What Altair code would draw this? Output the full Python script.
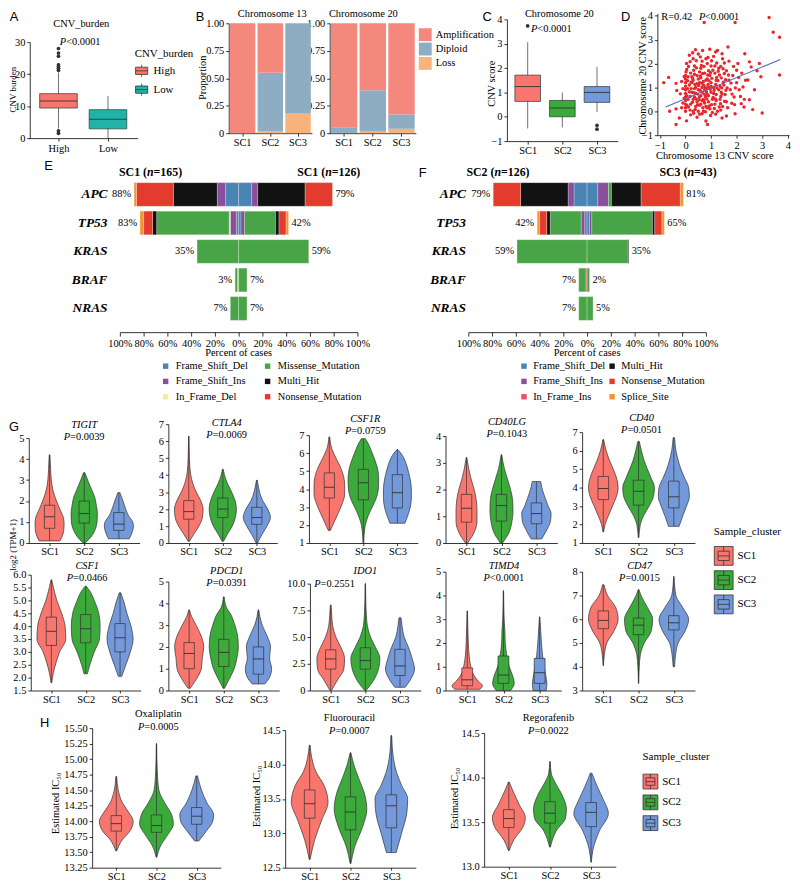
import altair as alt
import pandas as pd

# ============================== DATA ==============================
CLUSTERS = ["SC1", "SC2", "SC3"]
CLUSTER_COLORS = ["#F8766D", "#3BAA3B", "#7399DA"]

# Panel A  (whisker low, Q1, median, Q3, whisker high)
A_GROUPS = ["High", "Low"]
A_COLORS = ["#F8766D", "#1FB3AA"]
A_HIGH_BOX = [3.0, 9.4, 11.6, 13.9, 20.5]
A_LOW_BOX = [0.0, 2.9, 5.9, 8.9, 13.2]
A_HIGH_OUTLIERS = [21.2, 21.8, 22.4, 22.9, 25.6, 26.6, 28.0, 2.3, 1.5]

# Panel B  (proportions per cluster SC1..SC3)
B_TYPES = ["Amplification", "Diploid", "Loss"]
B_COLORS = ["#F4887C", "#8EADC2", "#F7B37B"]
B_CHR13_AMP = [1.00, 0.45, 0.00]
B_CHR13_DIP = [0.00, 0.535, 0.82]
B_CHR13_LOSS = [0.00, 0.015, 0.18]
B_CHR20_AMP = [0.95, 0.61, 0.83]
B_CHR20_DIP = [0.05, 0.37, 0.13]
B_CHR20_LOSS = [0.00, 0.02, 0.04]

# Panel C
C_BOX = [[-0.48, 0.63, 1.24, 1.71, 3.06],
         [-0.44, 0.00, 0.36, 0.67, 1.00],
         [0.19, 0.59, 1.00, 1.24, 2.05]]
C_OUT_POS = [1, 3, 3]
C_OUT_VALUE = [3.73, -0.35, -0.51]

# Panel D  (chr13 score, chr20 score)
D_POINTS = [(-0.85, 1.2), (-0.66, 1.42), (-0.62, 0.0), (-0.37, 1.17), (-0.34, 0.87), (-0.2, 0.73),
            (-0.37, 0.1), (-0.37, -0.55), (-0.24, -0.28), (0.04, 2.0), (0.04, -0.4), (0.39, 2.58),
            (0.67, 2.55), (0.8, 2.2), (1.18, 2.48), (1.43, 2.41), (1.66, 2.69), (2.0, 1.72),
            (2.32, 2.41), (2.5, 2.07), (2.57, 1.86), (2.89, 2.0), (2.95, 1.45), (2.44, 1.31),
            (2.5, 0.48), (2.63, 0.07), (2.29, 0.18), (3.0, -0.07), (3.27, 3.93), (3.43, 3.31),
            (3.68, 3.1), (3.68, 1.52), (1.94, 3.72), (0.73, 3.72), (1.94, -0.1), (1.81, 0.34),
            (0.8, -0.41), (0.86, -0.55), (1.43, -0.28),
            (0, 0.0), (0, 0.15), (0, 0.3), (0, 0.45), (0, 0.6), (0, 0.75), (0, 0.9), (0, 1.05),
            (0, 1.2), (0, 1.35), (0, 1.5),
            (0.1, 0.5), (0.15, 1.1), (0.2, 0.3), (0.2, 1.6), (0.25, 0.8), (0.3, 0.0), (0.3, 1.3),
            (0.3, 2.2), (0.35, 0.6), (0.35, 1.9), (0.4, 0.2), (0.4, 1.0), (0.45, 1.5), (0.45, 0.4),
            (0.5, 0.9), (0.5, 2.4), (0.5, 0.0), (0.55, 1.2), (0.55, 0.6), (0.6, 1.8), (0.6, 0.3),
            (0.6, 1.4), (0.65, 0.8), (0.65, 2.1), (0.7, 0.5), (0.7, 1.1), (0.7, 0.0), (0.75, 1.6),
            (0.75, 0.9), (0.8, 0.2), (0.8, 1.3), (0.85, 0.7), (0.85, 2.0), (0.9, 1.0), (0.9, 0.4),
            (0.95, 1.5), (0.95, 0.1), (1.0, 0.8), (1.0, 1.9), (1.0, 1.2), (1.05, 0.5), (1.1, 2.3),
            (1.1, 1.0), (1.15, 0.3), (1.15, 1.6), (1.2, 0.7), (1.2, 1.3), (1.25, 0.0), (1.3, 1.8),
            (1.3, 0.9), (1.35, 0.5), (1.4, 1.4), (1.45, 2.2), (1.45, 0.2), (1.5, 1.1), (1.55, 0.7),
            (1.6, 1.7), (1.6, 0.4), (1.7, 1.3), (1.7, 2.1), (1.75, 0.9), (1.85, 1.5), (1.9, 0.6),
            (2.0, 1.2), (2.05, 2.0), (2.1, 0.9), (2.2, 1.6), (2.3, 0.5), (2.35, 1.3), (2.7, 0.9),
            (2.8, 1.7), (0.05, 1.75), (-0.1, 0.95), (-0.1, 0.35), (-0.05, 1.45), (0.2, -0.15),
            (0.45, -0.25), (0.65, -0.1), (1.05, -0.05), (1.6, -0.2), (0.15, 2.35), (0.95, 2.6),
            (1.25, 2.55), (0.25, 1.45), (0.55, 1.65), (0.85, 1.35), (1.35, 1.05), (0.4, 0.75),
            (0.6, 0.65), (0.75, 0.35), (0.35, 0.95), (0.5, 1.35), (0.7, 1.25), (0.9, 0.65),
            (1.1, 0.75), (0.3, 0.5), (0.45, 1.15), (0.65, 1.0), (0.8, 0.95), (1.0, 1.05),
            (0.55, 0.25), (0.85, 0.15), (1.2, 0.45), (1.4, 0.8), (0.25, 1.2), (0.9, 1.7), (1.15, 1.9),
            (0.12, 0.18), (0.18, 0.62), (0.22, 0.95), (0.28, 1.38), (0.32, 1.72), (0.38, 0.08),
            (0.42, 0.52), (0.48, 0.72), (0.52, 1.08), (0.58, 1.48), (0.62, 1.92), (0.68, 0.15),
            (0.72, 0.42), (0.78, 0.62), (0.82, 0.82), (0.88, 1.12), (0.92, 1.28), (0.98, 1.62),
            (1.02, 0.28), (1.08, 0.58), (1.12, 0.88), (1.18, 1.12), (1.22, 1.42), (1.28, 1.68),
            (1.32, 0.18), (1.38, 0.62), (1.42, 0.98), (1.48, 1.22), (1.52, 1.58), (1.58, 0.88),
            (0.15, 0.82), (0.22, 1.22), (0.27, 0.38), (0.33, 0.78), (0.37, 1.12), (0.43, 1.82),
            (0.47, 0.28), (0.53, 0.48), (0.57, 0.88), (0.63, 1.18), (0.67, 1.58), (0.73, 0.72),
            (0.77, 1.02), (0.83, 0.52), (0.87, 1.52), (0.93, 0.22), (0.97, 0.92), (1.03, 1.38),
            (1.07, 1.72), (1.13, 0.12), (1.17, 0.52), (1.23, 0.98), (1.27, 1.28), (1.33, 1.52),
            (1.37, 0.32), (1.43, 0.72), (1.47, 1.78), (1.53, 0.42), (1.57, 1.32), (1.63, 0.98),
            (0.08, 1.28), (0.12, 1.88), (0.18, 2.08), (0.28, 2.45), (0.42, 2.12), (0.58, 2.28),
            (0.72, 1.88), (0.88, 2.25), (1.02, 2.12), (1.22, 2.02), (1.38, 1.88), (1.52, 2.02),
            (1.68, 1.52), (1.78, 1.18), (1.82, 0.72), (1.88, 1.88), (1.95, 0.98), (2.08, 1.42),
            (2.15, 0.62), (2.25, 1.02), (0.18, 0.05), (0.32, -0.08), (0.55, -0.12), (0.78, -0.02),
            (0.98, -0.18), (1.18, -0.12), (1.38, 0.05), (1.65, 0.15), (1.92, 0.28), (2.18, 0.32),
            (0.05, 0.25), (0.05, 0.65), (0.08, 0.95), (0.1, 1.45), (-0.05, 0.55), (-0.15, 1.25),
            (-0.15, 0.15), (0.02, 1.65), (0.35, 1.55), (0.65, 0.45)]
D_LINE_X = [-0.78, 3.71]
D_LINE_Y = [0.18, 2.17]

# Panels E / F  (percent of cases, in MUT_TYPES order)
MUT_TYPES = ["Frame_Shift_Del", "Frame_Shift_Ins", "In_Frame_Del", "In_Frame_Ins",
             "Missense_Mutation", "Multi_Hit", "Nonsense_Mutation", "Splice_Site"]
MUT_COLORS = ["#4A84B4", "#8B4E9E", "#F3EE9E", "#E5536B", "#47A447", "#121212", "#E43B2F", "#F49234"]
GENES = ["APC", "TP53", "KRAS", "BRAF", "NRAS"]
E_LEFT_APC = [11, 7, 0, 0, 0, 37, 31, 2]
E_LEFT_TP53 = [2, 5, 1, 0, 61, 3.5, 7.5, 3]
E_LEFT_KRAS = [0, 0, 0, 0, 35, 0, 0, 0]
E_LEFT_BRAF = [0, 0, 1, 0, 2, 0, 0, 0]
E_LEFT_NRAS = [0, 0, 0, 0, 7, 0, 0, 0]
E_RIGHT_APC = [11, 5, 0, 0, 0, 40, 23, 0]
E_RIGHT_TP53 = [2, 3, 0, 0, 26, 3, 6, 2]
E_RIGHT_KRAS = [0, 0, 0, 0, 59, 0, 0, 0]
E_RIGHT_BRAF = [0, 0, 0, 0, 7, 0, 0, 0]
E_RIGHT_NRAS = [0, 0, 0, 0, 7, 0, 0, 0]
E_LEFT_PCT = [88, 83, 35, 3, 7]
E_RIGHT_PCT = [79, 42, 59, 7, 7]
F_LEFT_APC = [11, 5, 0, 0, 0, 40, 23, 0]
F_LEFT_TP53 = [2, 3, 0, 0, 26, 3, 6, 2]
F_LEFT_KRAS = [0, 0, 0, 0, 59, 0, 0, 0]
F_LEFT_BRAF = [0, 0, 0, 1, 6, 0, 0, 0]
F_LEFT_NRAS = [0, 0, 0, 0, 7, 0, 0, 0]
F_RIGHT_APC = [9, 9, 0, 0, 2.5, 25, 33, 2.5]
F_RIGHT_TP53 = [2, 2, 0, 0, 51, 2, 6, 2]
F_RIGHT_KRAS = [0, 0, 0, 0, 34, 1, 0, 0]
F_RIGHT_BRAF = [0, 0, 0, 0, 2, 0, 0, 0]
F_RIGHT_NRAS = [0, 0, 0, 0, 5, 0, 0, 0]
F_LEFT_PCT = [79, 42, 59, 7, 7]
F_RIGHT_PCT = [81, 65, 35, 2, 5]
# legend entries, listed column by column
E_LEGEND = ["Frame_Shift_Del", "Frame_Shift_Ins", "In_Frame_Del",
            "Missense_Mutation", "Multi_Hit", "Nonsense_Mutation"]
F_LEGEND = ["Frame_Shift_Del", "Frame_Shift_Ins", "In_Frame_Ins",
            "Multi_Hit", "Nonsense_Mutation", "Splice_Site"]

# Panels G / H violins: per cluster value levels (Y) and half widths (W); boxes (lo, q1, med, q3, hi)
TIGIT_Y = [[0.1, 0.3, 0.6, 0.9, 1.2, 1.6, 2.0, 2.5, 3.0, 3.5, 4.2],
           [0.0, 0.3, 0.7, 1.0, 1.4, 1.8, 2.2, 2.6, 3.0, 3.35],
           [0.2, 0.5, 0.8, 1.0, 1.3, 1.6, 2.0, 2.4]]
TIGIT_W = [[0.3, 0.36, 0.41, 0.42, 0.4, 0.3, 0.2, 0.1, 0.05, 0.03, 0.01],
           [0.03, 0.2, 0.33, 0.37, 0.38, 0.35, 0.3, 0.2, 0.1, 0.02],
           [0.3, 0.38, 0.42, 0.4, 0.28, 0.2, 0.12, 0.03]]
TIGIT_BOX = [[0.1, 0.7, 1.25, 1.8, 4.2], [0.0, 0.95, 1.4, 2.0, 3.35], [0.2, 0.6, 0.9, 1.45, 2.4]]

CTLA4_Y = [[0.1, 0.5, 1.0, 1.5, 2.0, 2.5, 3.0, 3.5, 4.0, 4.5, 5.5, 6.3],
           [0.1, 0.5, 1.0, 1.5, 2.0, 2.5, 3.0, 3.5, 4.0, 4.35],
           [0.0, 0.5, 1.0, 1.5, 2.0, 2.5, 3.0, 3.5, 3.7]]
CTLA4_W = [[0.02, 0.14, 0.3, 0.4, 0.42, 0.35, 0.22, 0.12, 0.06, 0.03, 0.012, 0.005],
           [0.02, 0.13, 0.28, 0.37, 0.4, 0.36, 0.26, 0.14, 0.05, 0.01],
           [0.02, 0.15, 0.3, 0.4, 0.32, 0.17, 0.08, 0.03, 0.01]]
CTLA4_BOX = [[0.1, 1.4, 1.85, 2.5, 6.3], [0.1, 1.5, 2.0, 2.65, 4.35], [0.0, 1.1, 1.5, 2.1, 3.7]]

CSF1R_Y = [[1.7, 2.2, 2.7, 3.2, 3.7, 4.2, 4.7, 5.2, 5.7, 6.2, 6.9],
           [1.0, 1.8, 2.5, 3.0, 3.5, 4.0, 4.5, 5.0, 5.5, 6.0, 6.5, 6.8],
           [2.1, 2.5, 3.0, 3.5, 4.0, 4.5, 5.0, 5.5, 6.0, 6.2]]
CSF1R_W = [[0.03, 0.15, 0.27, 0.38, 0.45, 0.45, 0.42, 0.33, 0.2, 0.08, 0.01],
           [0.01, 0.04, 0.14, 0.26, 0.38, 0.44, 0.45, 0.43, 0.36, 0.26, 0.15, 0.06],
           [0.22, 0.3, 0.38, 0.41, 0.41, 0.38, 0.32, 0.24, 0.1, 0.01]]
CSF1R_BOX = [[1.7, 3.5, 4.1, 4.9, 6.9], [1.0, 3.4, 4.35, 5.1, 6.8], [2.1, 2.95, 3.8, 4.8, 6.2]]

CD40LG_Y = [[0.0, 0.4, 0.8, 1.2, 1.6, 2.0, 2.4, 2.8, 3.2],
            [0.0, 0.4, 0.8, 1.2, 1.6, 2.0, 2.4, 2.8, 3.3],
            [0.15, 0.5, 0.8, 1.1, 1.4, 1.8, 2.1, 2.3]]
CD40LG_W = [[0.03, 0.22, 0.3, 0.3, 0.28, 0.22, 0.13, 0.06, 0.01],
            [0.03, 0.22, 0.3, 0.33, 0.32, 0.26, 0.17, 0.08, 0.01],
            [0.15, 0.3, 0.4, 0.42, 0.33, 0.22, 0.15, 0.12]]
CD40LG_BOX = [[0.0, 0.78, 1.3, 1.82, 3.2], [0.0, 0.82, 1.4, 1.82, 3.3], [0.15, 0.72, 1.1, 1.5, 2.3]]

CD40_Y = [[1.6, 2.0, 2.5, 3.0, 3.5, 4.0, 4.5, 5.0, 5.5, 6.0, 6.6],
          [1.3, 2.0, 2.5, 3.0, 3.5, 4.0, 4.5, 5.0, 5.5, 6.0, 6.5],
          [1.9, 2.5, 3.0, 3.5, 4.0, 4.5, 5.0, 5.5, 6.0, 6.7]]
CD40_W = [[0.01, 0.05, 0.15, 0.26, 0.37, 0.42, 0.38, 0.28, 0.17, 0.08, 0.01],
          [0.01, 0.05, 0.15, 0.3, 0.42, 0.45, 0.36, 0.25, 0.15, 0.08, 0.02],
          [0.15, 0.26, 0.36, 0.44, 0.42, 0.31, 0.2, 0.12, 0.06, 0.02]]
CD40_BOX = [[1.6, 3.35, 3.95, 4.6, 6.6], [1.3, 3.05, 3.8, 4.4, 6.5], [1.9, 2.9, 3.5, 4.35, 6.7]]

CSF1_Y = [[1.8, 2.2, 2.6, 3.0, 3.5, 4.0, 4.5, 5.0, 5.5, 5.8],
          [2.15, 2.5, 3.0, 3.5, 4.0, 4.5, 5.0, 5.3, 5.55],
          [2.05, 2.5, 3.0, 3.5, 4.0, 4.5, 5.0, 5.3]]
CSF1_W = [[0.01, 0.06, 0.14, 0.24, 0.42, 0.4, 0.3, 0.16, 0.06, 0.01],
          [0.05, 0.12, 0.25, 0.4, 0.42, 0.38, 0.25, 0.15, 0.02],
          [0.05, 0.17, 0.3, 0.38, 0.32, 0.2, 0.1, 0.02]]
CSF1_BOX = [[1.8, 3.25, 3.8, 4.35, 5.8], [2.15, 3.35, 3.9, 4.45, 5.55], [2.05, 3.0, 3.55, 4.1, 5.3]]

PDCD1_Y = [[0.1, 0.5, 1.0, 1.5, 2.0, 2.5, 3.0, 3.4, 3.7],
           [0.1, 0.5, 1.0, 1.5, 2.0, 2.5, 3.0, 3.5, 3.8, 4.3],
           [0.3, 0.6, 1.0, 1.5, 2.0, 2.5, 3.0, 3.4, 3.7]]
PDCD1_W = [[0.03, 0.2, 0.35, 0.38, 0.42, 0.35, 0.2, 0.07, 0.01],
           [0.02, 0.15, 0.3, 0.38, 0.42, 0.4, 0.32, 0.2, 0.08, 0.01],
           [0.18, 0.32, 0.38, 0.32, 0.35, 0.25, 0.11, 0.04, 0.01]]
PDCD1_BOX = [[0.1, 1.0, 1.7, 2.2, 3.7], [0.1, 1.1, 1.75, 2.35, 4.3], [0.3, 0.75, 1.45, 2.0, 3.7]]

IDO1_Y = [[0.0, 1.0, 2.0, 3.0, 4.0, 5.0, 6.0, 7.0, 8.0],
          [0.0, 1.0, 2.0, 3.0, 4.0, 5.0, 6.0, 7.0, 8.0, 10.0],
          [0.3, 1.0, 2.0, 3.0, 4.0, 5.0, 6.0, 6.8]]
IDO1_W = [[0.02, 0.2, 0.38, 0.4, 0.3, 0.15, 0.06, 0.03, 0.01],
          [0.02, 0.25, 0.38, 0.42, 0.3, 0.15, 0.06, 0.03, 0.015, 0.005],
          [0.15, 0.3, 0.42, 0.35, 0.25, 0.12, 0.06, 0.03]]
IDO1_BOX = [[0.0, 2.0, 2.95, 3.8, 8.0], [0.0, 2.0, 2.8, 4.0, 10.0], [0.3, 1.4, 2.3, 3.85, 6.8]]

TIMD4_Y = [[0.05, 0.2, 0.4, 0.7, 1.0, 1.5, 2.0, 2.7, 3.35],
           [0.0, 0.3, 0.6, 1.0, 1.5, 2.0, 2.5, 3.0, 4.2],
           [0.0, 0.3, 0.7, 1.0, 1.5, 2.0, 2.5, 3.1]]
TIMD4_W = [[0.35, 0.42, 0.3, 0.16, 0.1, 0.05, 0.03, 0.015, 0.005],
           [0.2, 0.3, 0.26, 0.16, 0.09, 0.05, 0.04, 0.02, 0.005],
           [0.18, 0.2, 0.16, 0.13, 0.08, 0.05, 0.03, 0.005]]
TIMD4_BOX = [[0.05, 0.2, 0.45, 0.95, 3.35], [0.0, 0.3, 0.65, 1.45, 4.2], [0.0, 0.3, 0.75, 1.35, 3.1]]

CD47_Y = [[4.05, 4.5, 5.0, 5.5, 6.0, 6.5, 7.0, 7.45],
          [3.3, 4.0, 4.5, 5.0, 5.5, 6.0, 6.5, 7.0, 7.25],
          [4.0, 4.5, 5.0, 5.5, 6.0, 6.5, 7.0, 7.8]]
CD47_W = [[0.005, 0.03, 0.1, 0.3, 0.42, 0.35, 0.12, 0.02],
          [0.005, 0.02, 0.05, 0.16, 0.36, 0.4, 0.25, 0.07, 0.01],
          [0.02, 0.05, 0.12, 0.32, 0.42, 0.25, 0.06, 0.005]]
CD47_BOX = [[4.05, 5.6, 5.95, 6.35, 7.45], [3.3, 5.35, 5.75, 6.05, 7.25], [4.0, 5.55, 5.85, 6.15, 7.8]]

OXA_Y = [[13.52, 13.7, 13.85, 14.0, 14.15, 14.3, 14.5, 14.72],
         [13.42, 13.6, 13.8, 13.95, 14.1, 14.3, 14.5, 14.8, 15.25],
         [13.68, 13.85, 14.0, 14.1, 14.3, 14.5, 14.73]]
OXA_W = [[0.01, 0.15, 0.35, 0.42, 0.3, 0.15, 0.05, 0.01],
         [0.01, 0.1, 0.3, 0.42, 0.38, 0.2, 0.06, 0.02, 0.005],
         [0.05, 0.25, 0.4, 0.42, 0.25, 0.12, 0.02]]
OXA_BOX = [[13.52, 13.84, 13.96, 14.09, 14.72], [13.42, 13.82, 13.93, 14.1, 15.25],
           [13.68, 13.95, 14.08, 14.22, 14.73]]

FLU_Y = [[12.62, 12.9, 13.2, 13.45, 13.7, 13.9, 14.1, 14.28],
         [12.56, 12.8, 13.1, 13.35, 13.6, 13.8, 14.0, 14.17],
         [12.72, 13.0, 13.3, 13.5, 13.7, 13.9, 14.1, 14.42]]
FLU_W = [[0.01, 0.12, 0.3, 0.45, 0.35, 0.15, 0.05, 0.01],
         [0.01, 0.1, 0.3, 0.4, 0.33, 0.2, 0.08, 0.01],
         [0.12, 0.25, 0.38, 0.4, 0.25, 0.12, 0.05, 0.01]]
FLU_BOX = [[12.62, 13.22, 13.43, 13.63, 14.28], [12.56, 13.05, 13.31, 13.53, 14.17],
           [12.72, 13.08, 13.4, 13.56, 14.42]]

REG_Y = [[13.18, 13.3, 13.45, 13.55, 13.7, 13.85, 13.95],
         [13.22, 13.4, 13.55, 13.65, 13.8, 13.95, 14.05, 14.18],
         [13.05, 13.2, 13.4, 13.6, 13.75, 13.9, 14.05]]
REG_W = [[0.01, 0.12, 0.35, 0.4, 0.25, 0.1, 0.01],
         [0.01, 0.15, 0.38, 0.4, 0.3, 0.12, 0.03, 0.005],
         [0.005, 0.05, 0.2, 0.42, 0.3, 0.15, 0.02]]
REG_BOX = [[13.18, 13.44, 13.54, 13.64, 13.95], [13.22, 13.49, 13.6, 13.73, 14.18],
           [13.05, 13.45, 13.61, 13.72, 14.05]]

# ============================== HELPERS ==============================
SERIF = "Liberation Serif"
SANS = "Liberation Sans"
DARK = "#333333"
W, H = 792, 875


def X(px):
    return px - 8


def Y(py):
    return py - 8


ONE = alt.Data(values=[{"k": 0}])


def txt(s, px, py, size=10.5, align="center", italic=False, bold=False, font=SERIF, angle=None):
    kw = dict(text=s, fontSize=size, align=align, baseline="middle", font=font, color="black")
    if italic:
        kw["fontStyle"] = "italic"
    if bold:
        kw["fontWeight"] = "bold"
    if angle is not None:
        kw["angle"] = angle
    return alt.Chart(ONE).mark_text(**kw).encode(x=alt.value(X(px)), y=alt.value(Y(py)))


def tw(s, size, bold=False):
    table = {".": .25, "=": .564, "<": .564, " ": .25, "(": .333, ")": .333,
             "P": .556, "S": .556, "C": .667, "n": .5, "R": .667}
    if bold:
        table.update({"C": .722, "=": .57, "n": .556})
    return sum(table.get(ch, .5) for ch in s) * size


def ptxt(rest, cx, py, size=10.5):
    wp = 0.6 * size
    wr = tw(rest, size)
    x0 = cx - (wp + wr) / 2 + wp
    return [txt("P", x0, py, size, align="right", italic=True), txt(rest, x0, py, size, align="left")]


def ntxt(pre, post, cx, py, size=12):
    w1 = tw(pre, size, True)
    wn = 0.556 * size
    w3 = tw(post, size, True)
    left = cx - (w1 + wn + w3) / 2
    return [txt(pre, left + w1, py, size, "right", bold=True),
            txt("n", left + w1 + wn / 2, py, size, "center", italic=True, bold=True),
            txt(post, left + w1 + wn, py, size, "left", bold=True)]


def qscale(dom, r0, r1):
    return alt.Scale(domain=dom, range=[r0, r1], nice=False, zero=False)


def xbottom(py, values=None, labelExpr=None, **kw):
    d = dict(orient="bottom", offset=Y(py) - H, title=None)
    if values is not None:
        d["values"] = values
    if labelExpr:
        d["labelExpr"] = labelExpr
    d.update(kw)
    return alt.Axis(**d)


def yleft(px, values=None, **kw):
    d = dict(orient="left", offset=-X(px), title=None)
    if values is not None:
        d["values"] = values
    d.update(kw)
    return alt.Axis(**d)


def box_df(groups, boxes, halfbox):
    rows = []
    for i, (g, b) in enumerate(zip(groups, boxes)):
        lo, q1, md, q3, hi = b
        p = i + 1
        rows.append({"g": g, "p": p, "lo": lo, "q1": q1, "md": md, "q3": q3, "hi": hi,
                     "bl": p - halfbox, "br": p + halfbox})
    return pd.DataFrame(rows)


def box_layers(bdf, xs, ys, xa, ya, cs, legend):
    whisk = alt.Chart(bdf).mark_rule(color=DARK, strokeWidth=0.7).encode(
        x=alt.X("p:Q", scale=xs, axis=xa), y=alt.Y("lo:Q", scale=ys, axis=ya), y2="hi:Q")
    box = alt.Chart(bdf).mark_rect(stroke=DARK, strokeWidth=0.7).encode(
        x=alt.X("bl:Q", scale=xs, axis=xa), x2="br:Q",
        y=alt.Y("q1:Q", scale=ys, axis=ya), y2="q3:Q",
        color=alt.Color("g:N", scale=cs, legend=legend))
    med = alt.Chart(bdf).mark_rule(color=DARK, strokeWidth=0.9).encode(
        x=alt.X("bl:Q", scale=xs, axis=xa), x2="br:Q", y=alt.Y("md:Q", scale=ys, axis=ya))
    return [whisk, box, med]


def violin_panel(vy, vw, boxes, ydom, yticks, xpx, ypx, yfmt=None, yexpr=None, legend=None, halfbox=0.15):
    xs = qscale([0.4, 3.6], X(xpx[0]), X(xpx[1]))
    ys = qscale(ydom, Y(ypx[0]), Y(ypx[1]))
    xa = xbottom(ypx[0], [1, 2, 3], "'SC' + datum.value", tickSize=2.5, labelPadding=1.5)
    extra = {}
    if yfmt:
        extra["format"] = yfmt
    if yexpr:
        extra["labelExpr"] = yexpr
    ya = yleft(xpx[0], yticks, **extra)
    cs = alt.Scale(domain=CLUSTERS, range=CLUSTER_COLORS)
    rows = []
    for i, (yl, wl) in enumerate(zip(vy, vw)):
        for yv, wv in zip(yl, wl):
            rows.append({"g": CLUSTERS[i], "y": yv, "xl": i + 1 - wv, "xr": i + 1 + wv})
    area = alt.Chart(pd.DataFrame(rows)).mark_area(
        orient="horizontal", interpolate="monotone", stroke=DARK, strokeWidth=0.7, opacity=1
    ).encode(
        y=alt.Y("y:Q", scale=ys, axis=ya),
        x=alt.X("xl:Q", scale=xs, axis=xa, stack=None),
        x2="xr:Q",
        color=alt.Color("g:N", scale=cs, legend=legend))
    return alt.layer(area, *box_layers(box_df(CLUSTERS, boxes, halfbox), xs, ys, xa, ya, cs, None))


BOX_GLYPH = "M-1,-0.6H1V0.6H-1Z M-1,0H1 M0,-0.6V-1 M0,0.6V1"
VIO_GLYPH = "M-1,-1H1V1H-1Z M-0.6,-0.5H0.6V0.5H-0.6Z M-0.6,0H0.6 M0,-1V-0.5 M0,0.5V1"

charts = []

# ---------------- Panel A ----------------
a_xs = qscale([0.4, 2.6], X(29), X(139))
a_ys = qscale([0, 30], Y(135), Y(38))
a_xa = xbottom(135, [1, 2], "datum.value == 1 ? 'High' : 'Low'")
a_ya = yleft(30, [0, 10, 20, 30])
a_cs = alt.Scale(domain=A_GROUPS, range=A_COLORS)
a_leg = alt.Legend(title="CNV_burden", orient="none", legendX=X(136), legendY=Y(44),
                   symbolType=BOX_GLYPH, symbolSize=150, symbolStrokeColor=DARK, symbolStrokeWidth=0.8,
                   rowPadding=3, titlePadding=5, labelOffset=5, labelFontSize=11, titleFontSize=11)
a_layers = box_layers(box_df(A_GROUPS, [A_HIGH_BOX, A_LOW_BOX], 0.38), a_xs, a_ys, a_xa, a_ya, a_cs, a_leg)
a_out = alt.Chart(pd.DataFrame({"p": [1] * len(A_HIGH_OUTLIERS), "v": A_HIGH_OUTLIERS})).mark_circle(
    size=14, color=DARK, opacity=1).encode(x=alt.X("p:Q", scale=a_xs, axis=a_xa), y=alt.Y("v:Q", scale=a_ys, axis=a_ya))
charts.append(alt.layer(*a_layers, a_out))


# ---------------- Panel B ----------------
def stack_panel(amp, dip, loss, xpx, legend):
    rows = []
    for i, c in enumerate(CLUSTERS):
        for t, vals, r in (("Loss", loss, 0), ("Diploid", dip, 1), ("Amplification", amp, 2)):
            rows.append({"c": c, "t": t, "v": vals[i], "r": r})
    xs = alt.Scale(domain=CLUSTERS, range=[X(xpx[0]), X(xpx[1])], paddingInner=0.08, paddingOuter=0.04)
    ys = qscale([0, 1], Y(130), Y(19))
    return alt.Chart(pd.DataFrame(rows)).mark_bar().encode(
        x=alt.X("c:N", scale=xs, axis=xbottom(130, tickSize=3, labelPadding=1, labelAngle=0)),
        y=alt.Y("v:Q", scale=ys, stack="zero",
                axis=yleft(xpx[0], [0, 0.25, 0.5, 0.75, 1.0],
                           labelExpr="datum.value == 0 ? '0' : format(datum.value, '.2f')")),
        color=alt.Color("t:N", scale=alt.Scale(domain=B_TYPES, range=B_COLORS), legend=legend),
        order=alt.Order("r:Q", sort="ascending"))


b_leg = alt.Legend(title=None, orient="none", legendX=X(422), legendY=Y(23), symbolType="square",
                   symbolSize=169, rowPadding=0.5, labelOffset=3, labelFontSize=10.5, values=B_TYPES)
charts.append(stack_panel(B_CHR13_AMP, B_CHR13_DIP, B_CHR13_LOSS, (231, 315), None))
charts.append(stack_panel(B_CHR20_AMP, B_CHR20_DIP, B_CHR20_LOSS, (333, 420), b_leg))

# ---------------- Panel C ----------------
c_xs = qscale([0.4, 3.6], X(512), X(624))
c_ys = qscale([-1, 4], Y(138), Y(15))
c_xa = xbottom(138, [1, 2, 3], "'SC' + datum.value")
c_ya = yleft(512, [-1, 0, 1, 2, 3, 4])
c_cs = alt.Scale(domain=CLUSTERS, range=CLUSTER_COLORS)
c_layers = box_layers(box_df(CLUSTERS, C_BOX, 0.37), c_xs, c_ys, c_xa, c_ya, c_cs, None)
c_out = alt.Chart(pd.DataFrame({"p": C_OUT_POS, "v": C_OUT_VALUE})).mark_circle(
    size=14, color=DARK, opacity=1).encode(x=alt.X("p:Q", scale=c_xs, axis=c_xa), y=alt.Y("v:Q", scale=c_ys, axis=c_ya))
charts.append(alt.layer(*c_layers, c_out))

# ---------------- Panel D ----------------
d_xs = qscale([-1.1, 4.05], X(664), X(797))
d_ys = qscale([-1, 4.1], Y(132), Y(9))
d_xa = xbottom(132, [-1, 0, 1, 2, 3, 4])
d_ya = yleft(664, [-1, 0, 1, 2, 3, 4])
d_pts = alt.Chart(pd.DataFrame(D_POINTS, columns=["x", "y"])).mark_circle(
    size=12, color="#E8262B", opacity=1).encode(
    x=alt.X("x:Q", scale=d_xs, axis=d_xa), y=alt.Y("y:Q", scale=d_ys, axis=d_ya))
d_line = alt.Chart(pd.DataFrame({"x": D_LINE_X, "y": D_LINE_Y})).mark_line(
    color="#5468C4", strokeWidth=1.1).encode(
    x=alt.X("x:Q", scale=d_xs, axis=d_xa), y=alt.Y("y:Q", scale=d_ys, axis=d_ya))
charts.append(alt.layer(d_pts, d_line))


# ---------------- Panels E / F ----------------
def mut_panel(lefts, rights, lpct, rpct, x0, x1, legend, lpad):
    rows = []
    for g, L, R in zip(GENES, lefts, rights):
        for k, t in enumerate(MUT_TYPES):
            if L[k] > 0:
                rows.append({"gene": g, "type": t, "v": -L[k], "r": k})
            if R[k] > 0:
                rows.append({"gene": g, "type": t, "v": R[k], "r": k})
    xs = qscale([-100, 100], X(x0), X(x1))
    ys = alt.Scale(domain=GENES, range=[Y(177.5), Y(321.5)], paddingInner=0.17, paddingOuter=0.085)
    xa = xbottom(331, list(range(-100, 101, 20)), "abs(datum.value) + '%'", tickSize=4)
    ya = yleft(x0, domain=False, ticks=False, labelPadding=lpad, labelFontStyle="italic",
               labelFontWeight="bold", labelFontSize=13.5)
    bars = alt.Chart(pd.DataFrame(rows)).mark_bar(stroke="#f3e9dc", strokeWidth=0.3).encode(
        x=alt.X("v:Q", stack="zero", scale=xs, axis=xa),
        y=alt.Y("gene:N", scale=ys, axis=ya),
        color=alt.Color("type:N", scale=alt.Scale(domain=MUT_TYPES, range=MUT_COLORS), legend=legend),
        order=alt.Order("r:Q", sort="ascending"))
    pdf = pd.DataFrame({"gene": GENES, "lx": [-v for v in lpct], "rx": rpct,
                        "lt": [f"{v}%" for v in lpct], "rt": [f"{v}%" for v in rpct]})
    lt = alt.Chart(pdf).mark_text(align="right", dx=-3, fontSize=10.5, font=SERIF, color="black").encode(
        x=alt.X("lx:Q", scale=xs, axis=xa), y=alt.Y("gene:N", scale=ys, axis=ya), text="lt:N")
    rt = alt.Chart(pdf).mark_text(align="left", dx=3, fontSize=10.5, font=SERIF, color="black").encode(
        x=alt.X("rx:Q", scale=xs, axis=xa), y=alt.Y("gene:N", scale=ys, axis=ya), text="rt:N")
    return alt.layer(bars, lt, rt)


e_leg = alt.Legend(title=None, orient="none", legendX=X(162), legendY=Y(360), columns=2,
                   values=E_LEGEND, symbolType="square", symbolSize=30, symbolStrokeWidth=0,
                   rowPadding=4.5, columnPadding=14, labelOffset=5, labelFontSize=10.5)
f_leg = alt.Legend(title=None, orient="none", legendX=X(524), legendY=Y(360), columns=2,
                   values=F_LEGEND, symbolType="square", symbolSize=30, symbolStrokeWidth=0,
                   rowPadding=4.5, columnPadding=1, labelOffset=4, labelFontSize=10.5)
charts.append(mut_panel([E_LEFT_APC, E_LEFT_TP53, E_LEFT_KRAS, E_LEFT_BRAF, E_LEFT_NRAS],
                        [E_RIGHT_APC, E_RIGHT_TP53, E_RIGHT_KRAS, E_RIGHT_BRAF, E_RIGHT_NRAS],
                        E_LEFT_PCT, E_RIGHT_PCT, 121, 361, e_leg, 13))
charts.append(mut_panel([F_LEFT_APC, F_LEFT_TP53, F_LEFT_KRAS, F_LEFT_BRAF, F_LEFT_NRAS],
                        [F_RIGHT_APC, F_RIGHT_TP53, F_RIGHT_KRAS, F_RIGHT_BRAF, F_RIGHT_NRAS],
                        F_LEFT_PCT, F_RIGHT_PCT, 473, 713, f_leg, 3))

# ---------------- Panel G ----------------
g_leg = alt.Legend(title="Sample_cluster", orient="none", legendX=X(721), legendY=Y(527),
                   symbolType=VIO_GLYPH, symbolSize=361, symbolStrokeColor=DARK, symbolStrokeWidth=0.8,
                   rowPadding=0.5, titlePadding=9, labelOffset=4, labelFontSize=11, titleFontSize=11)
h_leg = alt.Legend(title="Sample_cluster", orient="none", legendX=X(649), legendY=Y(754),
                   symbolType=VIO_GLYPH, symbolSize=225, symbolStrokeColor=DARK, symbolStrokeWidth=0.8,
                   rowPadding=1, titlePadding=12, labelOffset=4, labelFontSize=11, titleFontSize=11)

charts.append(violin_panel(TIGIT_Y, TIGIT_W, TIGIT_BOX, [0, 5], [0, 1, 2, 3, 4, 5], (29, 141), (544, 438), legend=g_leg))
charts.append(violin_panel(CTLA4_Y, CTLA4_W, CTLA4_BOX, [0, 7], list(range(8)), (170, 280), (544, 424)))
charts.append(violin_panel(CSF1R_Y, CSF1R_W, CSF1R_BOX, [1, 7], list(range(1, 8)), (312, 422), (544, 435)))
charts.append(violin_panel(CD40LG_Y, CD40LG_W, CD40LG_BOX, [0, 4], list(range(5)), (450, 563), (544, 436)))
charts.append(violin_panel(CD40_Y, CD40_W, CD40_BOX, [1, 7], list(range(1, 8)), (588, 702), (544, 432)))
charts.append(violin_panel(CSF1_Y, CSF1_W, CSF1_BOX, [1.5, 6.0], [1.5, 2, 2.5, 3, 3.5, 4, 4.5, 5, 5.5, 6],
                           (31, 142), (693, 576), yfmt=".1f"))
charts.append(violin_panel(PDCD1_Y, PDCD1_W, PDCD1_BOX, [0, 5], list(range(6)), (170, 282), (693, 583)))
charts.append(violin_panel(IDO1_Y, IDO1_W, IDO1_BOX, [0, 10], [0, 2.5, 5, 7.5, 10], (313, 425), (693, 585),
                           yexpr="datum.value == 0 ? '0' : format(datum.value, '.1f')"))
charts.append(violin_panel(TIMD4_Y, TIMD4_W, TIMD4_BOX, [0, 5], list(range(6)), (450, 567), (693, 573)))
charts.append(violin_panel(CD47_Y, CD47_W, CD47_BOX, [3, 8], list(range(3, 9)), (588, 702), (693, 573)))

# ---------------- Panel H ----------------
charts.append(violin_panel(OXA_Y, OXA_W, OXA_BOX, [13.25, 15.5],
                           [13.25, 13.5, 13.75, 14.0, 14.25, 14.5, 14.75, 15.0, 15.25, 15.5],
                           (93, 223), (872, 731), yfmt=".2f", legend=h_leg, halfbox=0.13))
charts.append(violin_panel(FLU_Y, FLU_W, FLU_BOX, [12.5, 14.5], [12.5, 13.0, 13.5, 14.0, 14.5],
                           (288, 420), (872, 733), yfmt=".1f", halfbox=0.13))
charts.append(violin_panel(REG_Y, REG_W, REG_BOX, [13.0, 14.5], [13.0, 13.5, 14.0, 14.5],
                           (489, 622), (871, 736), yfmt=".1f", halfbox=0.13))

# ---------------- Texts ----------------
T = []
for letter, px, py in (("A", 14, 13), ("B", 202, 13), ("C", 492, 13), ("D", 632, 13),
                       ("E", 49, 163), ("F", 427, 170), ("G", 14, 427), ("H", 45, 726)):
    T.append(txt(letter, px, py, 13, font=SANS))
T.append(txt("CNV_burden", 82, 20))
T += ptxt("<0.0001", 81, 38)
T.append(txt("CNV burden", 13.5, 86, size=9, angle=270))
T.append(txt("Chromosome 13", 275, 10))
T.append(txt("Chromosome 20", 367, 10))
T.append(txt("Proportion", 205, 74, angle=270))
T.append(txt("Chromosome 20", 565, 10))
T += ptxt("<0.0001", 557, 25)
T.append(txt("CNV score", 497, 80, angle=270))
T.append(txt("R=0.42", 668, 13, align="left"))
T.append(txt("P", 706, 13, align="left", italic=True))
T.append(txt("<0.0001", 712, 13, align="left"))
T.append(txt("Chromosome 20 CNV score", 650, 72, angle=270))
T.append(txt("Chromosome 13 CNV score", 722, 153))
T += ntxt("SC1 (", "=165)", 152, 169)
T += ntxt("SC1 (", "=126)", 332, 169)
T += ntxt("SC2 (", "=126)", 503, 169)
T += ntxt("SC3 (", "=43)", 695, 169)
T.append(txt("Percent of cases", 241, 352))
T.append(txt("Percent of cases", 593, 352))
for gene, pv, cx, ty in (("TIGIT", "=0.0039", 85, 425), ("CTLA4", "=0.0069", 229, 423),
                         ("CSF1R", "=0.0759", 369, 419), ("CD40LG", "=0.1043", 512, 422),
                         ("CD40", "=0.0501", 648, 418), ("CSF1", "=0.0466", 88, 567),
                         ("PDCD1", "=0.0391", 229, 572), ("TIMD4", "<0.0001", 509, 567),
                         ("CD47", "=0.0015", 646, 567)):
    T.append(txt(gene, cx, ty, italic=True))
    T += ptxt(pv, cx, ty + 12)
T.append(txt("IDO1", 369, 572, italic=True))
T += ptxt("=0.2551", 338, 585)
T.append(txt("log2 (TPM+1)", 13.5, 546, size=9, angle=270))
for name, pv, cx, ty in (("Oxaliplatin", "=0.0005", 160, 717), ("Fluorouracil", "=0.0007", 353, 721),
                         ("Regorafenib", "=0.0022", 554, 721)):
    T.append(txt(name, cx, ty))
    T += ptxt(pv, cx, ty + 13)
for px, py in ((57, 807), (260, 800), (460, 802)):
    T.append(txt("Estimated IC\u2085\u2080", px, py, angle=270))

chart = alt.layer(*charts, *T).resolve_scale(
    x="independent", y="independent", color="independent"
).properties(
    width=W, height=H, padding=0, autosize=alt.AutoSizeParams(type="none"), background="white"
).configure_axis(
    grid=False, domainColor="black", tickColor="black", labelColor="black", labelFont=SERIF,
    labelFontSize=10.5, tickSize=3, labelPadding=2, domainWidth=0.8, tickWidth=0.8,
    labelFlush=False, labelOverlap=False
).configure_legend(
    labelFont=SERIF, titleFont=SERIF, titleFontWeight="normal", labelColor="black", titleColor="black"
).configure_view(strokeWidth=0)

chart.save("out.html", embed_options={"renderer": "svg", "actions": False})
